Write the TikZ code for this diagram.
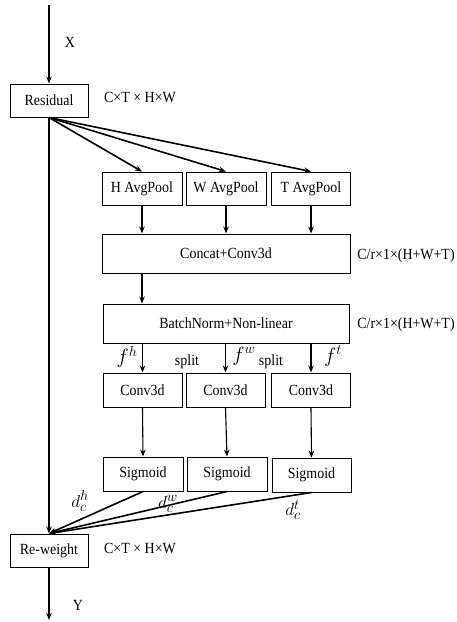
\documentclass[tikz,border=0pt]{standalone}
\usepackage{fontspec}
\setmainfont{Liberation Serif}[FakeStretch=0.9]
\usetikzlibrary{arrows.meta}
\begin{document}
\begin{tikzpicture}[x=1pt,y=-1pt,
  box/.style={draw,line width=1pt,inner sep=0pt,font=\fontsize{15.5}{17}\selectfont},
  lbl/.style={inner sep=0pt,font=\fontsize{15.5}{17}\selectfont},
  mlbl/.style={inner sep=0pt,font=\fontsize{20}{22}\selectfont},
  dlbl/.style={inner sep=0pt,font=\fontsize{19}{21}\selectfont},
  arr/.style={line width=1.1pt,-{Stealth[length=7pt,width=5.5pt]}},
  farr/.style={line width=1.6pt,-{Stealth[length=7pt,width=5.5pt]}}]
\useasboundingbox (0,0) rectangle (457,622);
\node[box,minimum width=78pt,minimum height=33pt] (res) at (49,100.5) {Residual};
\node[box,minimum width=80pt,minimum height=33pt] (hap) at (142,188.5) {H AvgPool};
\node[box,minimum width=80pt,minimum height=33pt] (wap) at (226,188.5) {W AvgPool};
\node[box,minimum width=79pt,minimum height=33pt] (tap) at (311,188.5) {T AvgPool};
\node[box,minimum width=248pt,minimum height=39pt] (cat) at (226,253.5) {Concat+Conv3d};
\node[box,minimum width=246pt,minimum height=39pt] (bn) at (226,323.5) {BatchNorm+Non-linear};
\node[box,minimum width=79pt,minimum height=34pt] (c1) at (142.5,390) {Conv3d};
\node[box,minimum width=79pt,minimum height=34pt] (c2) at (225.5,390) {Conv3d};
\node[box,minimum width=79pt,minimum height=34pt] (c3) at (311,390) {Conv3d};
\node[box,minimum width=80pt,minimum height=34pt] (s1) at (143,474) {Sigmoid};
\node[box,minimum width=80pt,minimum height=34pt] (s2) at (227,474) {Sigmoid};
\node[box,minimum width=79pt,minimum height=34pt] (s3) at (311.5,475) {Sigmoid};
\node[box,minimum width=78pt,minimum height=33pt] (rw) at (49,550.5) {Re-weight};
\coordinate (top) at (49,5);
\coordinate (bot) at (49,620);
% labels
\node[lbl] (lx) at (70,42) {X};
\node[lbl] (ldim1) at (140,97) {C×T × H×W};
\node[lbl] (ldim2) at (406,256) {C/r×1×(H+W+T)};
\node[lbl] (ldim3) at (406,325) {C/r×1×(H+W+T)};
\node[mlbl] (lfh) at (127,357) {$f^h$};
\node[lbl] (lsp1) at (187,362) {split};
\node[mlbl] (lfw) at (244,356) {$f^w$};
\node[lbl] (lsp2) at (271,362) {split};
\node[mlbl] (lft) at (333,356) {$f^t$};
\node[dlbl] (ldh) at (80,501) {$d_c^h$};
\node[dlbl] (ldw) at (168,504) {$d_c^w$};
\node[dlbl] (ldt) at (293,510) {$d_c^t$};
\node[lbl] (ldim4) at (140,548) {C×T × H×W};
\node[lbl] (ly) at (78,605) {Y};
% connectors
\draw[arr] (top) -- (res.north);
\draw[farr] (res.south) -- (hap.north);
\draw[farr] (res.south) -- (wap.north);
\draw[farr] (res.south) -- (tap.north);
\draw[arr] (hap.south) -- (hap.south |- cat.north);
\draw[arr] (wap.south) -- (wap.south |- cat.north);
\draw[arr] (tap.south) -- (tap.south |- cat.north);
\draw[arr] (hap.south |- cat.south) -- (hap.south |- bn.north);
\draw[arr] (c1.north |- bn.south) -- (c1.north);
\draw[arr] (c2.north |- bn.south) -- (c2.north);
\draw[arr] (c3.north |- bn.south) -- (c3.north);
\draw[arr] (c1.south) -- (s1.north);
\draw[arr] (c2.south) -- (s2.north);
\draw[arr] (c3.south) -- (s3.north);
\draw[arr] (res.south) -- (rw.north);
\draw[farr] (s1.south) -- (rw.north);
\draw[farr] (s2.south) -- (rw.north);
\draw[farr] (s3.south) -- (rw.north);
\draw[arr] (rw.south) -- (bot);
\end{tikzpicture}
\end{document}
